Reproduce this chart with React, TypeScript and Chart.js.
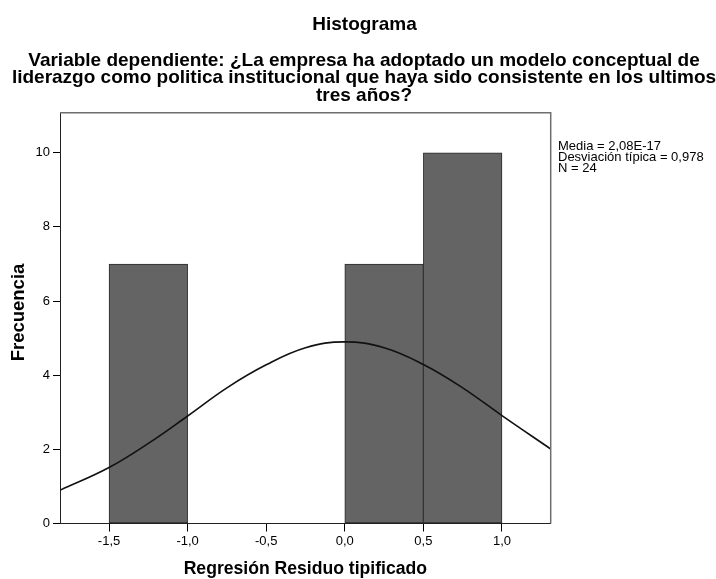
import React, { useEffect, useRef } from "react";
import { Chart, registerables } from "chart.js";

Chart.register(...registerables);

const chartTitle = "Histograma";
const subtitleLines = [
  "Variable dependiente: ¿La empresa ha adoptado un modelo conceptual de",
  "liderazgo como politica institucional que haya sido consistente en los ultimos",
  "tres años?",
];
const xAxisTitle = "Regresión Residuo tipificado";
const yAxisTitle = "Frecuencia";
const statsLines = ["Media = 2,08E-17", "Desviación típica = 0,978", "N = 24"];

const binCenters = [-1.25, -0.75, -0.25, 0.25, 0.75];
const binCounts = [7, 0, 0, 7, 10];

const curveX = [-1.81, -1.5, -1.25, -1.0, -0.75, -0.5, -0.25, 0, 0.25, 0.5, 0.75, 1.0, 1.31];
const curveY = [0.9, 1.51, 2.16, 2.9, 3.66, 4.28, 4.74, 4.9, 4.74, 4.29, 3.66, 2.91, 2.01];

const xTicks = [-1.5, -1.0, -0.5, 0.0, 0.5, 1.0];
const yTicks = [0, 2, 4, 6, 8, 10];
const xMin = -1.812;
const xMax = 1.31;
const yMax = 11.08;

const FONT = '"Liberation Sans", Arial, sans-serif';

const textPlugin = {
  id: "spssText",
  afterDraw(chart: any) {
    const ctx = chart.ctx;
    const area = chart.chartArea;
    ctx.save();
    ctx.strokeStyle = "#6e6e6e";
    ctx.lineWidth = 1.5;
    ctx.beginPath();
    ctx.moveTo(area.left, area.top);
    ctx.lineTo(area.right, area.top);
    ctx.lineTo(area.right, area.bottom);
    ctx.stroke();

    ctx.fillStyle = "#000";
    ctx.textAlign = "center";
    ctx.textBaseline = "alphabetic";
    ctx.font = `bold 19px ${FONT}`;
    ctx.fillText(chartTitle, 364.5, 30);
    subtitleLines.forEach((l, i) => ctx.fillText(l, 364, 65.5 + i * 17.5));

    ctx.font = `bold 17.6px ${FONT}`;
    ctx.fillText(xAxisTitle, (area.left + area.right) / 2, 574);
    ctx.save();
    ctx.font = `bold 18.5px ${FONT}`;
    ctx.translate(24, 312.5);
    ctx.rotate(-Math.PI / 2);
    ctx.fillText(yAxisTitle, 0, 0);
    ctx.restore();

    ctx.textAlign = "left";
    ctx.font = `13px ${FONT}`;
    statsLines.forEach((l, i) => ctx.fillText(l, 558, 150 + i * 11));
    ctx.restore();
  },
};

export default function App() {
  const ref = useRef<HTMLCanvasElement | null>(null);
  useEffect(() => {
    if (!ref.current) return;
    const chart = new Chart(ref.current, {
      type: "bar",
      data: {
        datasets: [
          {
            type: "line",
            data: curveX.map((x, i) => ({ x, y: curveY[i] })),
            borderColor: "#111",
            borderWidth: 1.6,
            pointRadius: 0,
            tension: 0.4,
            fill: false,
            order: 0,
          } as any,
          {
            type: "bar",
            data: binCenters.map((x, i) => ({ x, y: binCounts[i] })),
            backgroundColor: "#646464",
            borderColor: "#2a2a2a",
            borderWidth: 1,
            borderSkipped: false,
            barPercentage: 1,
            categoryPercentage: 1,
            order: 1,
          } as any,
        ],
      },
      options: {
        responsive: false,
        animation: false,
        layout: { padding: { top: 112.7, right: 165.3, left: 0, bottom: 0 } },
        plugins: {
          legend: { display: false },
          tooltip: { enabled: false },
          title: { display: false },
        },
        scales: {
          x: {
            type: "linear",
            offset: false,
            min: xMin,
            max: xMax,
            afterBuildTicks: (s: any) => {
              s.ticks = xTicks.map((v) => ({ value: v }));
            },
            afterFit: (s: any) => {
              s.height = 55.5;
            },
            grid: { offset: false, drawOnChartArea: false, tickLength: 8, color: "#000", tickColor: "#000" },
            border: { color: "#222", width: 1 },
            ticks: {
              color: "#000",
              padding: 2,
              maxRotation: 0,
              autoSkip: false,
              font: { family: FONT, size: 13 },
              callback: (v: any) => Number(v).toFixed(1).replace(".", ","),
            },
          },
          y: {
            type: "linear",
            min: 0,
            max: yMax,
            afterBuildTicks: (s: any) => {
              s.ticks = yTicks.map((v) => ({ value: v }));
            },
            afterFit: (s: any) => {
              s.width = 60;
            },
            grid: { drawOnChartArea: false, tickLength: 7, color: "#000", tickColor: "#000" },
            border: { color: "#222", width: 1 },
            ticks: {
              color: "#000",
              padding: 3,
              autoSkip: false,
              font: { family: FONT, size: 13 },
              callback: (v: any) => String(v),
            },
          },
        },
      } as any,
      plugins: [textPlugin],
    });
    return () => chart.destroy();
  }, []);
  return (
    <div style={{ position: "absolute", left: 0, top: 0, width: 716, height: 579, background: "#fff" }}>
      <canvas ref={ref} width={716} height={579} style={{ display: "block", width: 716, height: 579 }} />
    </div>
  );
}
